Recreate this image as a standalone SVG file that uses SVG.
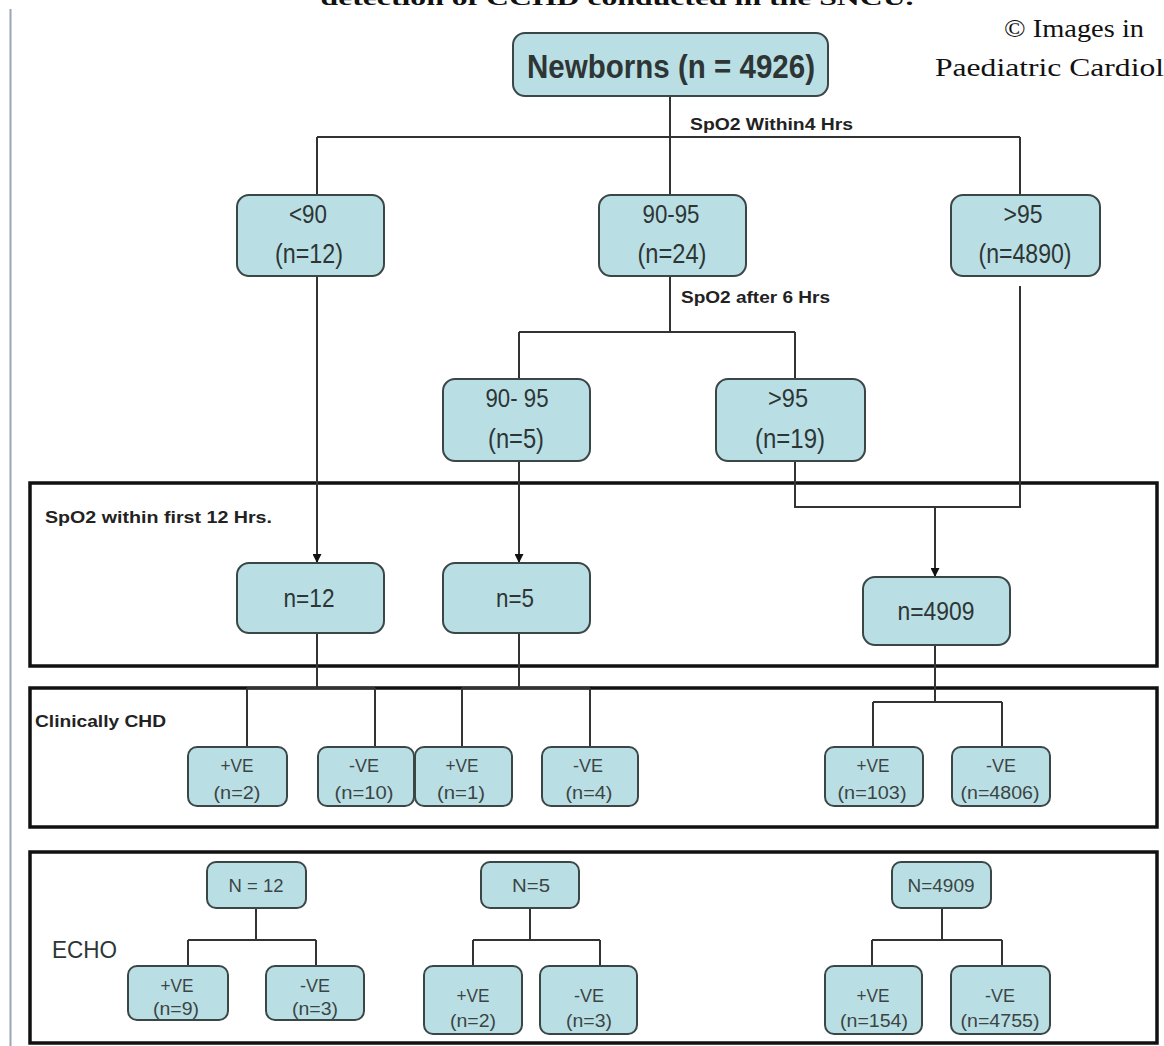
<svg xmlns="http://www.w3.org/2000/svg" width="1164" height="1046" viewBox="0 0 1164 1046">
<style>
.bg{fill:#ffffff}
.box{fill:#b9dfe4;stroke:#3b4646;stroke-width:2}
.sec{fill:none;stroke:#111111;stroke-width:3.5}
.ln{fill:none;stroke:#333333;stroke-width:2}
.t{font-family:"Liberation Sans",Arial,sans-serif;fill:#2e3535;text-anchor:middle}
.ts{font-family:"Liberation Sans",Arial,sans-serif;fill:#3c4444;text-anchor:middle}
.tb{font-family:"Liberation Sans",Arial,sans-serif;font-weight:bold;fill:#222222}
.serif{font-family:"Liberation Serif","Times New Roman",serif;fill:#111111}
</style>
<defs>
<marker id="arr" viewBox="0 0 10 10" refX="10" refY="5" markerWidth="9" markerHeight="9" markerUnits="userSpaceOnUse" orient="auto">
<path d="M0,0 L10,5 L0,10 z" fill="#111111"/>
</marker>
</defs>
<rect class="bg" x="0" y="0" width="1164" height="1046"/>
<line x1="10.5" y1="9" x2="10.5" y2="1046" stroke="#9aa5b5" stroke-width="2"/>
<text class="serif" x="617" y="5" font-size="20" font-weight="bold" text-anchor="middle" textLength="593" lengthAdjust="spacingAndGlyphs">detection of CCHD conducted in the SNCU.</text>
<text class="serif" x="1004" y="37" font-size="26" textLength="140" lengthAdjust="spacingAndGlyphs">© Images in</text>
<text class="serif" x="935" y="76" font-size="26" textLength="229" lengthAdjust="spacingAndGlyphs">Paediatric Cardiol</text>

<g id="sections">
<rect class="sec" x="30" y="483" width="1127" height="183"/>
<rect class="sec" x="30" y="688" width="1127" height="139"/>
<rect class="sec" x="30" y="852" width="1127" height="191"/>
<text class="tb" x="45" y="523" font-size="17" textLength="227" lengthAdjust="spacingAndGlyphs">SpO2  within first 12 Hrs.</text>
<text class="tb" x="35" y="727" font-size="17" textLength="131" lengthAdjust="spacingAndGlyphs">Clinically CHD</text>
<text class="t" x="52" y="958" font-size="24" style="text-anchor:start" textLength="65" lengthAdjust="spacingAndGlyphs">ECHO</text>
</g>

<g id="connectors">
<path class="ln" d="M670,96 V137 M317,137 H1020 M317,137 V195 M670,137 V195 M1020,137 V195"/>
<path class="ln" d="M670,276 V332 M519,332 H795 M519,332 V379 M795,332 V379"/>
<path class="ln" d="M795,461 V507 H1020 V286"/>
<path class="ln" d="M317,276 V563" marker-end="url(#arr)"/>
<path class="ln" d="M519,461 V563" marker-end="url(#arr)"/>
<path class="ln" d="M935,507 V577" marker-end="url(#arr)"/>
<path class="ln" d="M317,633 V688 M519,633 V688 M247,688 H375 M462,688 H590 M247,688 V747 M375,688 V747 M462,688 V747 M590,688 V747"/>
<path class="ln" d="M935,645 V702 M873,702 H1002 M873,702 V747 M1002,702 V747"/>
<path class="ln" d="M256,908 V940 M188,940 H316 M188,940 V966 M316,940 V966"/>
<path class="ln" d="M530,908 V940 M473,940 H600 M473,940 V966 M600,940 V966"/>
<path class="ln" d="M942,908 V940 M872,940 H1002 M872,940 V966 M1002,940 V966"/>
<text class="tb" x="690" y="130" font-size="16" textLength="163" lengthAdjust="spacingAndGlyphs">SpO2 Within4 Hrs</text>
<text class="tb" x="681" y="303" font-size="16" textLength="149" lengthAdjust="spacingAndGlyphs">SpO2 after 6 Hrs</text>
</g>

<g id="newborns">
<rect class="box" x="513" y="33" width="315" height="63" rx="12"/>
<text class="t" x="671" y="78" font-size="33" font-weight="bold" fill="#1e2a2a" textLength="288" lengthAdjust="spacingAndGlyphs">Newborns (n = 4926)</text>
</g>

<g id="lt90">
<rect class="box" x="237" y="195" width="147" height="81" rx="12"/>
<text class="t" x="308" y="223" font-size="25" textLength="38" lengthAdjust="spacingAndGlyphs">&lt;90</text>
<text class="t" x="309" y="263" font-size="27" textLength="68" lengthAdjust="spacingAndGlyphs">(n=12)</text>
</g>
<g id="r90-95">
<rect class="box" x="599" y="195" width="147" height="81" rx="12"/>
<text class="t" x="671" y="223" font-size="25" textLength="57" lengthAdjust="spacingAndGlyphs">90-95</text>
<text class="t" x="672" y="263" font-size="27" textLength="69" lengthAdjust="spacingAndGlyphs">(n=24)</text>
</g>
<g id="gt95">
<rect class="box" x="951" y="195" width="149" height="81" rx="12"/>
<text class="t" x="1023" y="223" font-size="25" textLength="39" lengthAdjust="spacingAndGlyphs">&gt;95</text>
<text class="t" x="1025" y="263" font-size="27" textLength="93" lengthAdjust="spacingAndGlyphs">(n=4890)</text>
</g>

<g id="r6-90-95">
<rect class="box" x="443" y="379" width="147" height="82" rx="12"/>
<text class="t" x="517" y="407" font-size="25" textLength="63" lengthAdjust="spacingAndGlyphs">90- 95</text>
<text class="t" x="516" y="448" font-size="27" textLength="56" lengthAdjust="spacingAndGlyphs">(n=5)</text>
</g>
<g id="r6-gt95">
<rect class="box" x="716" y="379" width="149" height="82" rx="12"/>
<text class="t" x="788" y="407" font-size="25" textLength="40" lengthAdjust="spacingAndGlyphs">&gt;95</text>
<text class="t" x="790" y="448" font-size="27" textLength="70" lengthAdjust="spacingAndGlyphs">(n=19)</text>
</g>

<g id="s12-n12">
<rect class="box" x="237" y="563" width="147" height="70" rx="12"/>
<text class="t" x="309" y="607" font-size="25" textLength="51" lengthAdjust="spacingAndGlyphs">n=12</text>
</g>
<g id="s12-n5">
<rect class="box" x="443" y="563" width="147" height="70" rx="12"/>
<text class="t" x="515" y="607" font-size="25" textLength="38" lengthAdjust="spacingAndGlyphs">n=5</text>
</g>
<g id="s12-n4909">
<rect class="box" x="863" y="577" width="147" height="68" rx="12"/>
<text class="t" x="936" y="620" font-size="25" textLength="77" lengthAdjust="spacingAndGlyphs">n=4909</text>
</g>

<g id="chd-pos-2">
<rect class="box" x="188" y="747" width="99" height="59" rx="9"/>
<text class="ts" x="237" y="772" font-size="18" textLength="33" lengthAdjust="spacingAndGlyphs">+VE</text>
<text class="ts" x="237" y="799" font-size="18" textLength="47" lengthAdjust="spacingAndGlyphs">(n=2)</text>
</g>
<g id="chd-neg-10">
<rect class="box" x="318" y="747" width="96" height="59" rx="9"/>
<text class="ts" x="364" y="772" font-size="18" textLength="30" lengthAdjust="spacingAndGlyphs">-VE</text>
<text class="ts" x="364" y="799" font-size="18" textLength="59" lengthAdjust="spacingAndGlyphs">(n=10)</text>
</g>
<g id="chd-pos-1">
<rect class="box" x="415" y="747" width="97" height="59" rx="9"/>
<text class="ts" x="462" y="772" font-size="18" textLength="33" lengthAdjust="spacingAndGlyphs">+VE</text>
<text class="ts" x="461" y="799" font-size="18" textLength="48" lengthAdjust="spacingAndGlyphs">(n=1)</text>
</g>
<g id="chd-neg-4">
<rect class="box" x="542" y="747" width="96" height="59" rx="9"/>
<text class="ts" x="588" y="772" font-size="18" textLength="30" lengthAdjust="spacingAndGlyphs">-VE</text>
<text class="ts" x="589" y="799" font-size="18" textLength="47" lengthAdjust="spacingAndGlyphs">(n=4)</text>
</g>
<g id="chd-pos-103">
<rect class="box" x="825" y="747" width="98" height="59" rx="9"/>
<text class="ts" x="873" y="772" font-size="18" textLength="33" lengthAdjust="spacingAndGlyphs">+VE</text>
<text class="ts" x="872" y="799" font-size="18" textLength="69" lengthAdjust="spacingAndGlyphs">(n=103)</text>
</g>
<g id="chd-neg-4806">
<rect class="box" x="952" y="747" width="98" height="59" rx="9"/>
<text class="ts" x="1001" y="772" font-size="18" textLength="30" lengthAdjust="spacingAndGlyphs">-VE</text>
<text class="ts" x="1000" y="799" font-size="18" textLength="79" lengthAdjust="spacingAndGlyphs">(n=4806)</text>
</g>

<g id="echo-n12">
<rect class="box" x="207" y="862" width="99" height="46" rx="9"/>
<text class="ts" x="256" y="892" font-size="18" textLength="55" lengthAdjust="spacingAndGlyphs">N = 12</text>
</g>
<g id="echo-n5">
<rect class="box" x="481" y="862" width="98" height="46" rx="9"/>
<text class="ts" x="531" y="892" font-size="18" textLength="38" lengthAdjust="spacingAndGlyphs">N=5</text>
</g>
<g id="echo-n4909">
<rect class="box" x="892" y="862" width="99" height="46" rx="9"/>
<text class="ts" x="941" y="892" font-size="18" textLength="67" lengthAdjust="spacingAndGlyphs">N=4909</text>
</g>

<g id="echo-pos-9">
<rect class="box" x="128" y="966" width="100" height="54" rx="9"/>
<text class="ts" x="177" y="992" font-size="18" textLength="33" lengthAdjust="spacingAndGlyphs">+VE</text>
<text class="ts" x="176" y="1015" font-size="18" textLength="46" lengthAdjust="spacingAndGlyphs">(n=9)</text>
</g>
<g id="echo-neg-3a">
<rect class="box" x="266" y="966" width="98" height="54" rx="9"/>
<text class="ts" x="315" y="992" font-size="18" textLength="30" lengthAdjust="spacingAndGlyphs">-VE</text>
<text class="ts" x="315" y="1015" font-size="18" textLength="46" lengthAdjust="spacingAndGlyphs">(n=3)</text>
</g>
<g id="echo-pos-2">
<rect class="box" x="424" y="966" width="98" height="68" rx="9"/>
<text class="ts" x="473" y="1002" font-size="18" textLength="33" lengthAdjust="spacingAndGlyphs">+VE</text>
<text class="ts" x="473" y="1027" font-size="18" textLength="46" lengthAdjust="spacingAndGlyphs">(n=2)</text>
</g>
<g id="echo-neg-3b">
<rect class="box" x="540" y="966" width="97" height="68" rx="9"/>
<text class="ts" x="589" y="1002" font-size="18" textLength="30" lengthAdjust="spacingAndGlyphs">-VE</text>
<text class="ts" x="589" y="1027" font-size="18" textLength="46" lengthAdjust="spacingAndGlyphs">(n=3)</text>
</g>
<g id="echo-pos-154">
<rect class="box" x="825" y="966" width="97" height="68" rx="9"/>
<text class="ts" x="873" y="1002" font-size="18" textLength="33" lengthAdjust="spacingAndGlyphs">+VE</text>
<text class="ts" x="874" y="1027" font-size="18" textLength="68" lengthAdjust="spacingAndGlyphs">(n=154)</text>
</g>
<g id="echo-neg-4755">
<rect class="box" x="951" y="966" width="99" height="68" rx="9"/>
<text class="ts" x="1000" y="1002" font-size="18" textLength="30" lengthAdjust="spacingAndGlyphs">-VE</text>
<text class="ts" x="1000" y="1027" font-size="18" textLength="79" lengthAdjust="spacingAndGlyphs">(n=4755)</text>
</g>
</svg>
